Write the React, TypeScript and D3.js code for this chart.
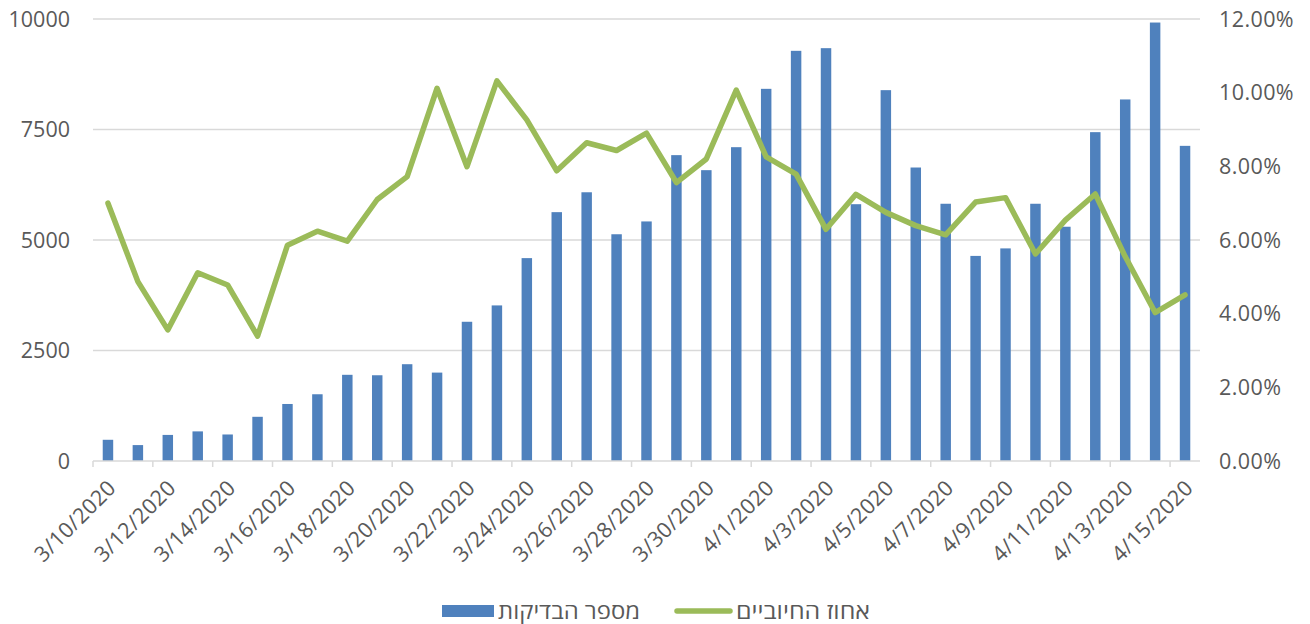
import React from 'react';
import { scaleBand, scaleLinear, line } from 'd3';

const dates = [
  '3/10/2020', '3/11/2020', '3/12/2020', '3/13/2020', '3/14/2020', '3/15/2020', '3/16/2020',
  '3/17/2020', '3/18/2020', '3/19/2020', '3/20/2020', '3/21/2020', '3/22/2020', '3/23/2020',
  '3/24/2020', '3/25/2020', '3/26/2020', '3/27/2020', '3/28/2020', '3/29/2020', '3/30/2020',
  '3/31/2020', '4/1/2020', '4/2/2020', '4/3/2020', '4/4/2020', '4/5/2020', '4/6/2020',
  '4/7/2020', '4/8/2020', '4/9/2020', '4/10/2020', '4/11/2020', '4/12/2020', '4/13/2020',
  '4/14/2020', '4/15/2020',
];

// number of tests (left axis)
const tests = [
  480, 360, 590, 670, 600, 1000, 1290, 1510, 1950, 1940, 2190, 2000, 3150, 3520,
  4590, 5630, 6080, 5130, 5420, 6920, 6580, 7100, 8420, 9280, 9340, 5810, 8390, 6640,
  5820, 4640, 4810, 5820, 5300, 7440, 8180, 9920, 7130,
];

// positive rate (right axis)
const positives = [
  0.07, 0.0487, 0.0356, 0.0511, 0.0478, 0.0339, 0.0586, 0.0624, 0.0597, 0.071, 0.0772,
  0.1012, 0.0799, 0.1032, 0.0926, 0.0788, 0.0864, 0.0843, 0.089, 0.0756, 0.082, 0.1007,
  0.0826, 0.0779, 0.0629, 0.0724, 0.0675, 0.0639, 0.0614, 0.0703, 0.0715, 0.0562, 0.0654,
  0.0725, 0.0555, 0.0403, 0.0451,
];

const leftTicks = [0, 2500, 5000, 7500, 10000];
const rightTicks = [0, 0.02, 0.04, 0.06, 0.08, 0.1, 0.12];
const seriesNames = ['מספר הבדיקות', 'אחוז החיוביים'];

const width = 1310;
const height = 624;
const plot = { left: 93, right: 1200, top: 19, bottom: 461 };
const blue = '#4F81BD';
const green = '#9BBB59';
const grid = '#D9D9D9';
const textColor = '#595959';
const font = '"Segoe UI", "Open Sans", "DejaVu Sans", sans-serif';
const fs = 21.5;

export default function App() {
  const x = scaleBand<string>().domain(dates).range([plot.left, plot.right]).paddingInner(0.65).paddingOuter(0.325);
  const yLeft = scaleLinear().domain([0, 10000]).range([plot.bottom, plot.top]);
  const yRight = scaleLinear().domain([0, 0.12]).range([plot.bottom, plot.top]);
  const step = x.step();
  const cx = (d: string) => (x(d) as number) + x.bandwidth() / 2;

  const path = line<number>()
    .x((_, i) => cx(dates[i]))
    .y((d) => yRight(d))(positives);

  return (
    <svg width={width} height={height} style={{ position: 'absolute', left: 0, top: 0, background: '#fff' }} fontFamily={font}>
      {leftTicks.map((t) => (
        <g key={t}>
          {t > 0 && <line x1={plot.left} x2={plot.right} y1={yLeft(t)} y2={yLeft(t)} stroke={grid} strokeWidth={1.5} />}
          <text x={70} y={yLeft(t)} dy="0.35em" textAnchor="end" fontSize={fs} fill={textColor}>{t}</text>
        </g>
      ))}
      {rightTicks.map((t) => (
        <text key={t} x={1219} y={yRight(t)} dy="0.35em" textAnchor="start" fontSize={fs} fill={textColor} letterSpacing={0.4}>
          {(t * 100).toFixed(2) + '%'}
        </text>
      ))}
      {tests.map((v, i) => (
        <rect key={dates[i]} x={x(dates[i])} y={yLeft(v)} width={x.bandwidth()} height={plot.bottom - yLeft(v)} fill={blue} />
      ))}
      <line x1={plot.left} x2={plot.right} y1={plot.bottom} y2={plot.bottom} stroke={grid} strokeWidth={1.5} />
      {dates.map((d, i) => i % 2 === 0 && (
        <g key={d}>
          <line x1={plot.left + i * step} x2={plot.left + i * step} y1={plot.bottom} y2={plot.bottom + 6} stroke={grid} strokeWidth={1.5} />
          <text transform={`translate(${cx(d) + 4},${plot.bottom + 23}) rotate(-45)`} textAnchor="end" dy="0.35em" fontSize={fs} fill={textColor} letterSpacing={0.3}>{d}</text>
        </g>
      ))}
      <path d={path ?? ''} fill="none" stroke={green} strokeWidth={5.5} strokeLinejoin="round" strokeLinecap="round" />
      <g>
        <rect x={442} y={605} width={52} height={12} fill={blue} />
        <text x={498} y={611} dy="0.35em" fontSize={fs} fill={textColor} textLength={142} lengthAdjust="spacingAndGlyphs">{seriesNames[0]}</text>
        <line x1={677} x2={730} y1={611} y2={611} stroke={green} strokeWidth={5.5} strokeLinecap="round" />
        <text x={736} y={611} dy="0.35em" fontSize={fs} fill={textColor} textLength={134} lengthAdjust="spacingAndGlyphs">{seriesNames[1]}</text>
      </g>
    </svg>
  );
}
